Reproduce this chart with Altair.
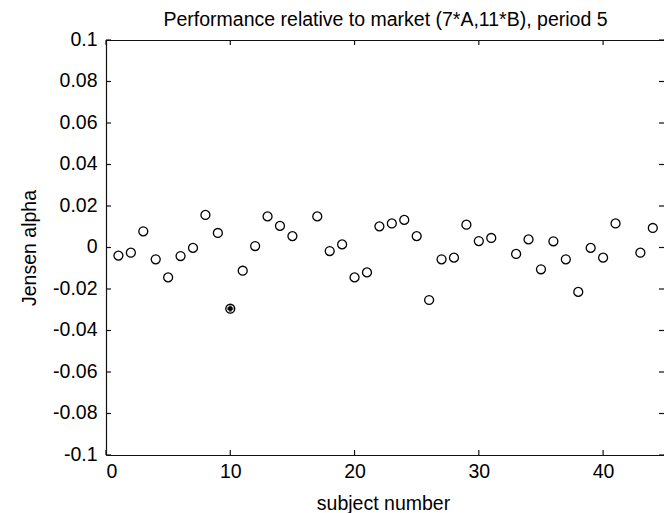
import altair as alt
import pandas as pd

subjects = [1, 2, 3, 4, 5, 6, 7, 8, 9, 10, 11, 12, 13, 14, 15,
            17, 18, 19, 20, 21, 22, 23, 24, 25, 26, 27, 28, 29, 30, 31,
            33, 34, 35, 36, 37, 38, 39, 40, 41, 43, 44]
alphas = [-0.0039, -0.0025, 0.0078, -0.0057, -0.0144, -0.0041, -0.0002, 0.0157, 0.0070, -0.0295,
          -0.0112, 0.0007, 0.0150, 0.0104, 0.0055,
          0.0150, -0.0017, 0.0015, -0.0144, -0.0120, 0.0102, 0.0116, 0.0133, 0.0055, -0.0253,
          -0.0057, -0.0049, 0.0110, 0.0031, 0.0046,
          -0.0031, 0.0039, -0.0105, 0.0030, -0.0057, -0.0214, -0.0002, -0.0049, 0.0116,
          -0.0025, 0.0094]
highlight_subjects = [10]

x_ticks = [0, 10, 20, 30, 40]
y_ticks = [-0.1, -0.08, -0.06, -0.04, -0.02, 0, 0.02, 0.04, 0.06, 0.08, 0.1]
x_domain = [0, 44.9]
y_domain = [-0.1, 0.1]
title_text = "Performance relative to market (7*A,11*B), period 5"

FONT = "Liberation Sans"
FS = 19.5
W, H = 558, 415

df = pd.DataFrame({"subject": subjects, "alpha": alphas})
df_hi = df[df["subject"].isin(highlight_subjects)]
df_xt = pd.DataFrame({"t": x_ticks})
df_yt = pd.DataFrame({"t": y_ticks})

xscale = alt.Scale(domain=x_domain, nice=False, zero=False)
yscale = alt.Scale(domain=y_domain, nice=False, zero=False)

x_axis = alt.Axis(orient="bottom", values=x_ticks, format="d", ticks=False, tickSize=0, grid=False,
                  domainColor="#111", domainWidth=1.2, labelFont=FONT, labelFontSize=FS,
                  labelColor="#000", labelPadding=7, title="subject number",
                  titleFont=FONT, titleFontSize=FS, titleFontWeight="normal", titleColor="#000",
                  titleX=277, titleY=54, titleBaseline="alphabetic", titleAlign="center")
top_axis = alt.Axis(orient="top", values=x_ticks, labels=False, ticks=False, tickSize=0,
                    grid=False, domainColor="#111", domainWidth=1.2, title=title_text,
                    titleFont=FONT, titleFontSize=FS, titleFontWeight="normal", titleColor="#000",
                    titleX=W / 2, titleY=-15, titleBaseline="alphabetic", titleAlign="center")
y_axis = alt.Axis(values=y_ticks, ticks=False, tickSize=0, grid=False,
                  domainColor="#111", domainWidth=1.2, labelFont=FONT, labelFontSize=FS,
                  labelColor="#000", labelPadding=9, labelOffset=-1,
                  labelExpr="datum.value == 0 ? '0' : replace(format(datum.value, '.2~f'), '\u2212', '-')",
                  title="Jensen alpha", titleFont=FONT, titleFontSize=FS,
                  titleFontWeight="normal", titleColor="#000", titleAngle=270,
                  titleX=-71, titleY=207.5, titleBaseline="alphabetic", titleAlign="center")

points = alt.Chart(df).mark_point(shape="circle", filled=False, color="#000",
                                  size=80, strokeWidth=1.3, opacity=1).encode(
    x=alt.X("subject:Q", scale=xscale, axis=x_axis),
    y=alt.Y("alpha:Q", scale=yscale, axis=y_axis),
)

hi = alt.Chart(df_hi).mark_point(shape="circle", filled=True, color="#000",
                                 size=22, opacity=1).encode(
    x=alt.X("subject:Q", scale=xscale),
    y=alt.Y("alpha:Q", scale=yscale),
)
hi_star = alt.Chart(df_hi).mark_point(shape="cross", filled=True, color="#555",
                                      size=45, opacity=0.8).encode(
    x=alt.X("subject:Q", scale=xscale),
    y=alt.Y("alpha:Q", scale=yscale),
)

tick_style = dict(color="#111", strokeWidth=1.2)
left_ticks = alt.Chart(df_yt).mark_rule(**tick_style).encode(
    y=alt.Y("t:Q", scale=yscale), x=alt.value(0), x2=alt.value(5))
right_ticks = alt.Chart(df_yt).mark_rule(**tick_style).encode(
    y=alt.Y("t:Q", scale=yscale), x=alt.value(W - 5), x2=alt.value(W))
bottom_ticks = alt.Chart(df_xt).mark_rule(**tick_style).encode(
    x=alt.X("t:Q", scale=xscale), y=alt.value(H - 5), y2=alt.value(H))
top_ticks = alt.Chart(df_xt).mark_rule(**tick_style).encode(
    x=alt.X("t:Q", scale=xscale, axis=top_axis), y=alt.value(0), y2=alt.value(5))

base = alt.layer(points, left_ticks, right_ticks, bottom_ticks, hi_star, hi)

chart = alt.layer(base, top_ticks).resolve_scale(x="independent").properties(
    width=W, height=H,
    autosize=alt.AutoSizeParams(type="none"),
    padding={"left": 106, "top": 40, "right": 0, "bottom": 58},
    background="white",
).configure_view(stroke=None)

chart.save("out.html", embed_options={"renderer": "svg", "actions": False})
